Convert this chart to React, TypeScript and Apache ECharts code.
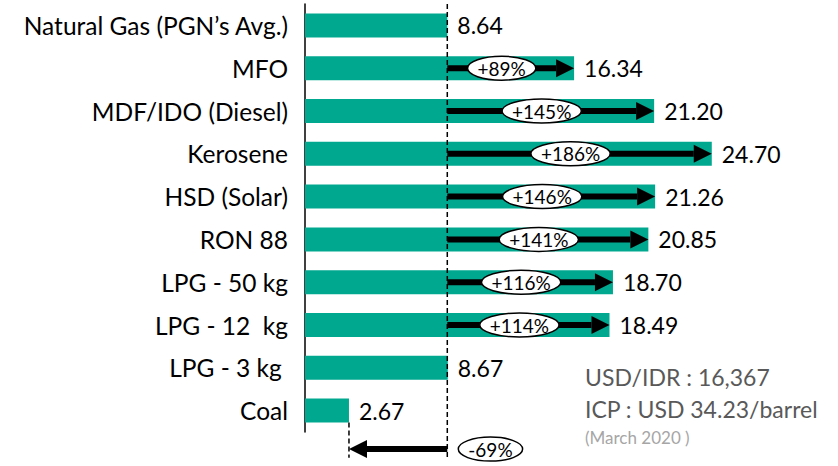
import React, { useEffect, useRef } from 'react';
import * as echarts from 'echarts';

const categories = [
  'Natural Gas (PGN’s Avg.)',
  'MFO',
  'MDF/IDO (Diesel)',
  'Kerosene',
  'HSD (Solar)',
  'RON 88',
  'LPG - 50 kg',
  'LPG - 12  kg',
  'LPG - 3 kg ',
  'Coal',
];
const prices = [8.64, 16.34, 21.2, 24.7, 21.26, 20.85, 18.7, 18.49, 8.67, 2.67];
const changeLabels = ['', '+89%', '+145%', '+186%', '+146%', '+141%', '+116%', '+114%', '', '-69%'];
const baselinePrice = 8.64;
const xMin = 0;
const xMax = 32;
const notes = ['USD/IDR : 16,367', 'ICP : USD 34.23/barrel', '(March 2020 )'];

const FONT = 'Lato';
const BAR_COLOR = '#00a88f';

let measureCtx: CanvasRenderingContext2D | null = null;
function textWidth(s: string, font: string): number {
  if (!measureCtx) measureCtx = document.createElement('canvas').getContext('2d');
  if (!measureCtx) return s.length * 10;
  measureCtx.font = font;
  return measureCtx.measureText(s).width;
}

export default function App() {
  const ref = useRef<HTMLDivElement>(null);

  useEffect(() => {
    if (!ref.current) return;
    const chart = echarts.init(ref.current, undefined, { renderer: 'svg' });

    const arrowData = prices.map((p, i) => [p, i]);

    const option: any = {
      animation: false,
      backgroundColor: '#ffffff',
      grid: {
        left: 305,
        top: 4,
        width: 527,
        height: 428,
        containLabel: false,
        outerBoundsMode: 'none',
      },
      xAxis: {
        type: 'value',
        min: xMin,
        max: xMax,
        show: false,
      },
      yAxis: {
        type: 'category',
        inverse: true,
        data: categories,
        axisLine: { show: true, lineStyle: { color: '#000', width: 1.5 } },
        axisTick: { show: false },
        splitLine: { show: false },
        axisLabel: {
          fontSize: 24.5,
          fontFamily: FONT,
          color: '#000',
          margin: 17,
        },
      },
      series: [
        {
          type: 'bar',
          data: prices,
          barWidth: 24,
          itemStyle: { color: BAR_COLOR },
          label: {
            show: true,
            position: 'right',
            distance: 10,
            fontSize: 23,
            fontFamily: FONT,
            color: '#000',
            formatter: (p: any) => Number(p.value).toFixed(2),
          },
          z: 2,
        },
        {
          type: 'custom',
          clip: false,
          z: 5,
          data: [[baselinePrice, 0]],
          encode: { x: 0, y: 1 },
          renderItem: (params: any, api: any) => {
            const band = api.size([0, 1])[1];
            const top = api.coord([baselinePrice, 0]);
            const bottom = api.coord([baselinePrice, categories.length - 1]);
            return {
              type: 'line',
              shape: { x1: top[0], y1: top[1] - band / 2, x2: top[0], y2: bottom[1] + band * 1.1 },
              style: { stroke: '#000', lineWidth: 1.5, lineDash: [5, 3] },
            };
          },
        },
        {
          type: 'custom',
          clip: false,
          z: 6,
          data: arrowData,
          encode: { x: 0, y: 1 },
          renderItem: (params: any, api: any) => {
            const i = params.dataIndex;
            const label = changeLabels[i];
            if (!label) return { type: 'group', children: [] };
            const v = api.value(0);
            const c = api.value(1);
            const band = api.size([0, 1])[1];
            const [xb, yc] = api.coord([baselinePrice, c]);
            const [xt] = api.coord([v, c]);
            const dir = v > baselinePrice ? 1 : -1;
            const y = dir > 0 ? yc : yc + band * 0.9;
            const head = 18;
            const halfH = 9;
            const shaftEnd = xt - dir * head;
            const fs = 19;
            const tw = textWidth(label, `${fs}px ${FONT}`);
            const rx = tw / 2 + 10;
            const ry = 12;
            const cx = dir > 0 ? (xb + shaftEnd) / 2 : xb + 11 + rx;
            const children: any[] = [
              {
                type: 'line',
                shape: { x1: xb, y1: y, x2: shaftEnd, y2: y },
                style: { stroke: '#000', lineWidth: 6 },
              },
              {
                type: 'polygon',
                shape: { points: [[xt, y], [shaftEnd, y - halfH], [shaftEnd, y + halfH]] },
                style: { fill: '#000' },
              },
              {
                type: 'ellipse',
                shape: { cx, cy: y, rx, ry },
                style: { fill: '#fff', stroke: '#000', lineWidth: 1.5 },
              },
              {
                type: 'text',
                style: {
                  text: label,
                  x: cx,
                  y: y,
                  align: 'center',
                  verticalAlign: 'middle',
                  fontSize: fs,
                  fontFamily: FONT,
                  fill: '#000',
                },
              },
            ];
            if (dir < 0) {
              children.push({
                type: 'line',
                shape: { x1: xt, y1: yc + 12, x2: xt, y2: yc + band * 1.1 },
                style: { stroke: '#000', lineWidth: 1.5, lineDash: [5, 3] },
              });
            }
            return { type: 'group', children };
          },
        },
      ],
      graphic: [
        {
          type: 'text',
          x: 585,
          y: 377,
          style: { text: notes[0], fontSize: 23, fontFamily: FONT, fill: '#595959', verticalAlign: 'middle' },
        },
        {
          type: 'text',
          x: 585,
          y: 409,
          style: { text: notes[1], fontSize: 23, fontFamily: FONT, fill: '#595959', verticalAlign: 'middle' },
        },
        {
          type: 'text',
          x: 585,
          y: 437,
          style: { text: notes[2], fontSize: 17, fontFamily: FONT, fill: '#a6a6a6', verticalAlign: 'middle' },
        },
      ],
    };

    chart.setOption(option);
    return () => chart.dispose();
  }, []);

  return (
    <div
      ref={ref}
      style={{ position: 'absolute', left: 0, top: 0, width: 838, height: 466 }}
    />
  );
}
